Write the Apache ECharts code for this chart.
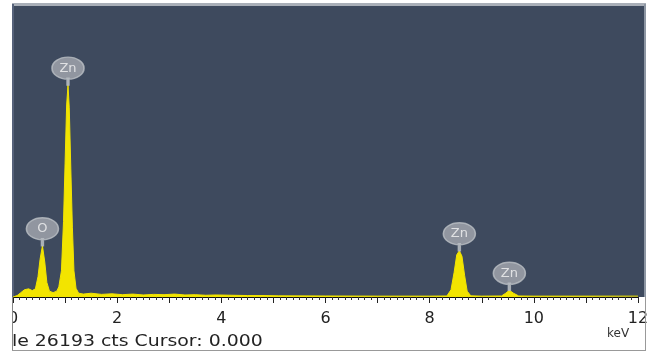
<!DOCTYPE html>
<html><head><meta charset="utf-8">
<script src="https://cdn.jsdelivr.net/npm/echarts@6/dist/echarts.min.js"></script>
<style>html,body{margin:0;padding:0;background:#fff}#c{width:654px;height:352px}</style>
</head><body><div id="c"></div>
<script>
// spectrum (keV, relative counts)
const energy = [0, 0.08, 0.15, 0.22, 0.3, 0.37, 0.43, 0.48, 0.52, 0.565, 0.61, 0.65, 0.7, 0.77, 0.84, 0.88, 0.93, 0.97, 1.0, 1.03, 1.056, 1.08, 1.11, 1.14, 1.17, 1.21, 1.26, 1.35, 1.5, 1.7, 1.9, 2.1, 2.3, 2.5, 2.7, 2.9, 3.1, 3.3, 3.5, 3.7, 3.9, 4.2, 4.5, 4.8, 5.1, 6, 7, 8, 8.33, 8.41, 8.47, 8.52, 8.57, 8.62, 8.67, 8.72, 8.79, 9.0, 9.38, 9.46, 9.53, 9.61, 9.71, 10, 11, 12];
const counts = [0, 0.5, 1.5, 2.5, 2.8, 2.2, 2.8, 7, 13, 17.6, 12, 5, 2, 1.5, 2, 3.5, 9, 26, 46, 66, 72.8, 65, 44, 24, 9, 3, 1.3, 1.0, 1.3, 0.9, 1.1, 0.8, 1.0, 0.7, 0.9, 0.8, 1.0, 0.7, 0.8, 0.6, 0.7, 0.6, 0.5, 0.5, 0.4, 0.35, 0.3, 0.3, 0.35, 2.5, 8.5, 14.5, 15.9, 14, 7.5, 2, 0.4, 0.3, 0.35, 1.3, 2.3, 1.3, 0.35, 0.3, 0.3, 0.3];
// peak identification labels
const peakNames = ['O', 'Zn', 'Zn', 'Zn'];
const peakEnergy = [0.565, 1.056, 8.57, 9.53];
const peakCounts = [17.6, 72.8, 15.9, 2.3];
const xTicks = [0, 2, 4, 6, 8, 10, 12];

const bubblePath = 'path://M0,11 A17,11 0 1,1 34,11 A17,11 0 1,1 0,11 Z M16,21 L18,21 L18,28 L16,28 Z';

const chart = echarts.init(document.getElementById('c'), null, {renderer: 'canvas'});
chart.setOption({
  animation: false,
  backgroundColor: '#ffffff',
  grid: {left: 13, right: 16, top: 6, bottom: 55, containLabel: false},
  xAxis: {
    type: 'value', min: 0, max: 12, interval: 1,
    axisLine: {show: true, lineStyle: {color: '#111', width: 1}},
    axisTick: {show: true, length: 6, lineStyle: {color: '#222'}},
    minorTick: {show: true, splitNumber: 8, length: 3, lineStyle: {color: '#333'}},
    axisLabel: {
      color: '#222', fontFamily: 'DejaVu Sans', fontSize: 16, margin: 14,
      formatter: v => xTicks.indexOf(v) >= 0 ? String(v) : ''
    },
    splitLine: {show: false}
  },
  yAxis: {type: 'value', min: 0, max: 100, show: false},
  graphic: [
    {type: 'rect', z: -10, shape: {x: 12, y: 4, width: 634, height: 293}, style: {fill: '#3e4a5e'}},
    {type: 'rect', z: -9, shape: {x: 12, y: 3, width: 634, height: 3}, style: {fill: '#a9afb8'}},
    {type: 'rect', z: -9, shape: {x: 644, y: 4, width: 2, height: 293}, style: {fill: '#8d96a3'}},
    {type: 'rect', z: -9, shape: {x: 12, y: 4, width: 2, height: 293}, style: {fill: '#56627a'}},
    {type: 'rect', z: 50, shape: {x: 0, y: 297, width: 12, height: 55}, style: {fill: '#ffffff'}},
    {type: 'line', z: 51, shape: {x1: 12.5, y1: 297, x2: 12.5, y2: 350}, style: {stroke: '#888', lineWidth: 1}},
    {type: 'line', z: 51, shape: {x1: 645.5, y1: 297, x2: 645.5, y2: 350}, style: {stroke: '#999', lineWidth: 1}},
    {type: 'line', z: 51, shape: {x1: 12, y1: 350.5, x2: 646, y2: 350.5}, style: {stroke: '#999', lineWidth: 1}},
    {type: 'text', z: 52, x: 12, y: 334, scaleX: 1.18, style: {text: 'le 26193 cts Cursor: 0.000', fill: '#222', font: '16px "DejaVu Sans"', verticalAlign: 'top'}},
    {type: 'text', z: 52, left: 607, top: 328, style: {text: 'keV', fill: '#333', font: '12px "DejaVu Sans"'}}
  ],
  series: [
    {
      type: 'line', z: 2,
      data: energy.map((e, i) => [e, counts[i]]),
      symbol: 'none', smooth: false,
      lineStyle: {color: '#f2e400', width: 1},
      areaStyle: {color: '#f2e400', opacity: 1}
    },
    {
      type: 'scatter', z: 5,
      data: peakEnergy.map((e, i) => ({value: [e, peakCounts[i]], name: peakNames[i]})),
      symbol: bubblePath, symbolSize: [32, 28], symbolOffset: [0, '-50%'],
      itemStyle: {color: '#a6a9b0', borderColor: '#bcc0c6', borderWidth: 1.5},
      label: {
        show: true, position: 'inside', formatter: p => p.name,
        color: '#f4f4f4', fontFamily: 'DejaVu Sans', fontSize: 13, offset: [0, -3]
      }
    }
  ]
});
</script></body></html>
